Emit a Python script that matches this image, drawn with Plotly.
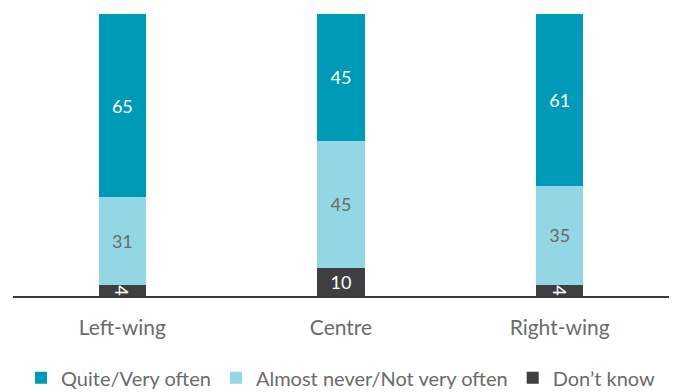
import plotly.graph_objects as go

# Chart data
categories = ["Left-wing", "Centre", "Right-wing"]
dont_know = [4, 10, 4]
almost_never = [31, 45, 35]
quite_often = [65, 45, 61]

series_names = ["Quite/Very often", "Almost never/Not very often", "Don\u2019t know"]

FONT = "Lato, 'Open Sans', sans-serif"
GREY_TEXT = "#6b6b6b"

# stack order bottom -> top: don't know, almost never, quite often
stack = [
    (series_names[2], dont_know, "#3f3f41", "white"),
    (series_names[1], almost_never, "#93d6e4", GREY_TEXT),
    (series_names[0], quite_often, "#009ab9", "white"),
]

fig = go.Figure()
for name, vals, color, txt_color in stack:
    fig.add_trace(go.Bar(
        x=categories, y=vals, name=name,
        marker=dict(color=color, line=dict(width=0)),
        text=[str(v) for v in vals],
        textposition="inside", insidetextanchor="middle",
        textfont=dict(color=txt_color, size=18, family=FONT),
        constraintext="none",
        width=0.215,
    ))

# page body has an 8px margin, so the figure is 8px smaller than the window
fig.update_layout(
    barmode="stack",
    width=669, height=384,
    margin=dict(l=5, r=8, t=6, b=96, autoexpand=False),
    plot_bgcolor="white", paper_bgcolor="white",
    font=dict(family=FONT, color=GREY_TEXT),
    uniformtext=dict(minsize=17, mode="show"),
    legend=dict(
        orientation="h", x=0.5, xanchor="center", y=-0.29, yanchor="middle",
        traceorder="reversed", font=dict(size=20, color=GREY_TEXT),
        itemwidth=30, itemsizing="constant",
    ),
    xaxis=dict(
        showgrid=False, showline=True, linecolor="#3a3a3a", linewidth=2,
        ticks="", tickfont=dict(size=21, color=GREY_TEXT, family=FONT),
        ticklabelstandoff=12, automargin=False, layer="below traces",
    ),
    yaxis=dict(range=[0, 100], visible=False, showgrid=False, automargin=False),
)

fig.write_html("out.html")
